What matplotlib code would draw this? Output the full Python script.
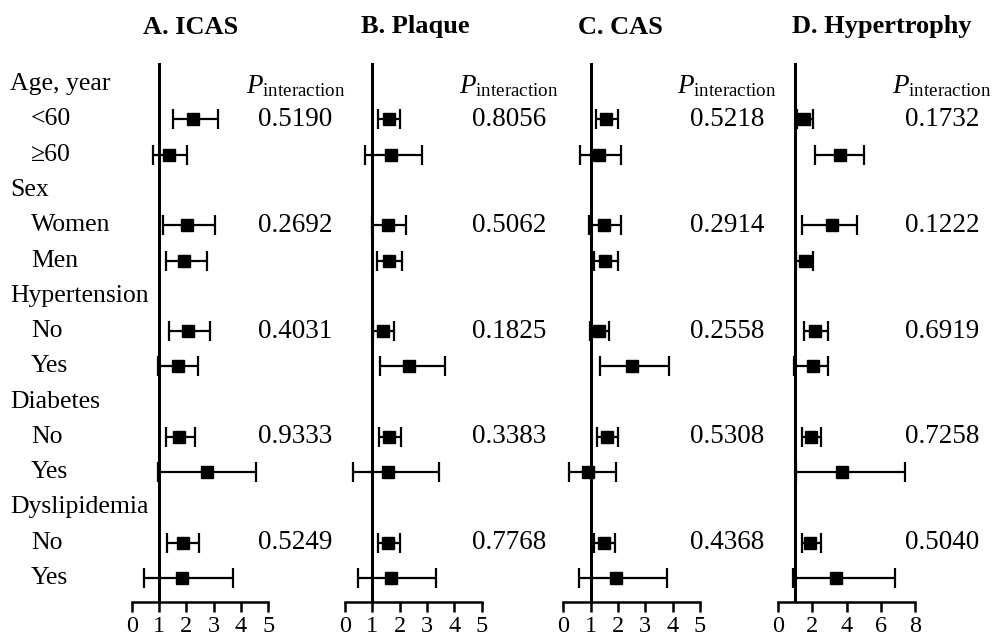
import matplotlib
matplotlib.use("Agg")
import matplotlib.pyplot as plt
import numpy as np

plt.rcParams["font.family"] = "Liberation Serif"
plt.rcParams["mathtext.fontset"] = "custom"
plt.rcParams["mathtext.rm"] = "Liberation Serif"
plt.rcParams["mathtext.it"] = "Liberation Serif:italic"

# row labels (top to bottom); True = group header
row_labels = ["Age, year", "<60", "\u226560", "Sex", "Women", "Men",
              "Hypertension", "No", "Yes", "Diabetes", "No", "Yes",
              "Dyslipidemia", "No", "Yes"]
is_header = [True, False, False, True, False, False, True, False, False,
             True, False, False, True, False, False]
data_rows = [1, 2, 4, 5, 7, 8, 10, 11, 13, 14]
p_rows = [1, 4, 7, 10, 13]

titles = ["A. ICAS", "B. Plaque", "C. CAS", "D. Hypertrophy"]

# odds ratios and 95% CI per panel
icas_or = [2.25, 1.35, 2.03, 1.93, 2.06, 1.69, 1.75, 2.75, 1.87, 1.83]
icas_lo = [1.50, 0.77, 1.15, 1.27, 1.35, 0.96, 1.25, 0.97, 1.31, 0.44]
icas_hi = [3.15, 2.03, 3.06, 2.75, 2.87, 2.43, 2.33, 4.56, 2.47, 3.72]

plaque_or = [1.60, 1.67, 1.56, 1.61, 1.40, 2.36, 1.62, 1.59, 1.59, 1.67]
plaque_lo = [1.22, 0.73, 0.98, 1.16, 1.04, 1.28, 1.26, 0.31, 1.22, 0.49]
plaque_hi = [2.01, 2.83, 2.22, 2.10, 1.79, 3.66, 2.04, 3.44, 2.01, 3.33]

cas_or = [1.57, 1.29, 1.50, 1.53, 1.29, 2.51, 1.60, 0.92, 1.50, 1.94]
cas_lo = [1.19, 0.61, 0.94, 1.13, 0.98, 1.35, 1.23, 0.21, 1.14, 0.59]
cas_hi = [2.00, 2.12, 2.12, 1.99, 1.68, 3.86, 2.00, 1.93, 1.90, 3.80]

hyp_or = [1.52, 3.59, 3.12, 1.56, 2.18, 2.01, 1.90, 3.73, 1.86, 3.38]
hyp_lo = [1.07, 2.16, 1.37, 1.03, 1.52, 0.93, 1.38, 1.04, 1.38, 0.85]
hyp_hi = [2.05, 5.00, 4.59, 2.05, 2.93, 2.93, 2.51, 7.45, 2.51, 6.86]

icas_p = ["0.5190", "0.2692", "0.4031", "0.9333", "0.5249"]
plaque_p = ["0.8056", "0.5062", "0.1825", "0.3383", "0.7768"]
cas_p = ["0.5218", "0.2914", "0.2558", "0.5308", "0.4368"]
hyp_p = ["0.1732", "0.1222", "0.6919", "0.7258", "0.5040"]

panels = [
    (icas_or, icas_lo, icas_hi, icas_p, [0, 1, 2, 3, 4, 5]),
    (plaque_or, plaque_lo, plaque_hi, plaque_p, [0, 1, 2, 3, 4, 5]),
    (cas_or, cas_lo, cas_hi, cas_p, [0, 1, 2, 3, 4, 5]),
    (hyp_or, hyp_lo, hyp_hi, hyp_p, [0, 2, 4, 6, 8]),
]

W, H = 993, 640
fig = plt.figure(figsize=(W / 100, H / 100), dpi=100)

ax_left = [131.7, 345, 563.3, 778.3]
ax_w = 136.5
ax_top, ax_bot = 63, 602
title_x = [191, 415, 620, 882]

for i, (orv, lo, hi, pv, ticks) in enumerate(panels):
    ax = fig.add_axes([ax_left[i] / W, (H - ax_bot) / H, ax_w / W, (ax_bot - ax_top) / H])
    orv, lo, hi = np.array(orv), np.array(lo), np.array(hi)
    ax.errorbar(orv, data_rows, xerr=[orv - lo, hi - orv], fmt="s", color="black",
                ms=8.5, capsize=7.5, elinewidth=1.6, capthick=1.6, zorder=3)
    ax.axvline(1, color="black", lw=2.2, zorder=2)
    ax.set_xlim(ticks[0], ticks[-1])
    ax.set_ylim(14.68, -0.6)
    ax.set_xticks(ticks)
    ax.set_yticks([])
    for s in ["left", "top", "right"]:
        ax.spines[s].set_visible(False)
    ax.spines["bottom"].set_linewidth(1.8)
    ax.tick_params(axis="x", length=7, width=1.8, labelsize=17.5, pad=3)

    tr = ax.get_yaxis_transform()
    ax.text(1.2, 0.05, r"$P_{\mathrm{interaction}}$", transform=tr, ha="center",
            va="center", fontsize=19.5)
    for r, p in zip(p_rows, pv):
        ax.text(1.2, r, p, transform=tr, ha="center", va="center", fontsize=19.5)

    fig.text(title_x[i] / W, 1 - 27 / H, titles[i], ha="center", va="center",
             fontsize=19, fontweight="bold")

    if i == 0:
        for r, (lab, hd) in enumerate(zip(row_labels, is_header)):
            x = (10 if hd else 31) - ax_left[0]
            ax.text(x / ax_w, r, lab, transform=tr, ha="left", va="center",
                    fontsize=18.5)

fig.savefig("out.png", dpi=100)
